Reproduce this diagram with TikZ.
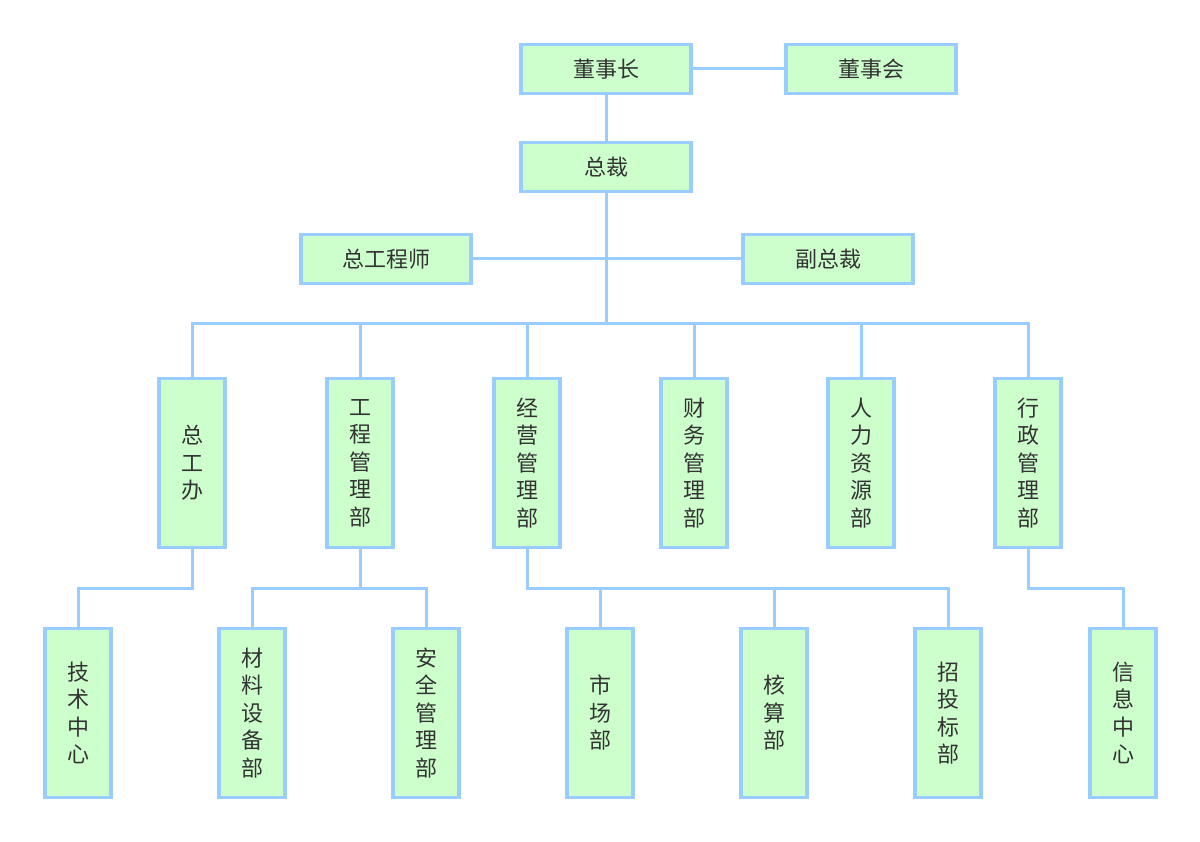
\documentclass[tikz,border=0pt]{standalone}
\usepackage{fontspec}
\newfontfamily\cjk{Noto Sans CJK SC}
\definecolor{boxfill}{HTML}{CCFFCC}
\definecolor{boxline}{HTML}{99CCFF}
\definecolor{txt}{HTML}{333333}
\tikzset{
  hbox/.style={draw=boxline, fill=boxfill, line width=3.5pt, minimum width=170pt, minimum height=49pt, inner sep=0pt,
    font=\cjk\fontsize{22}{27.5}\selectfont, text=txt},
  vbox/.style={draw=boxline, fill=boxfill, line width=3.5pt, minimum width=66pt, minimum height=169pt, inner sep=0pt,
    align=center, font=\cjk\fontsize{22}{27.5}\selectfont, text=txt},
  link/.style={draw=boxline, line width=3pt}
}
\begin{document}
\begin{tikzpicture}[x=1pt,y=-1pt]
\useasboundingbox (0,0) rectangle (1200,842);
\fill[white] (0,0) rectangle (1200,842);
% top
\node[hbox] (dsz) at (606,69) {董事长};
\node[hbox] (dsh) at (871,69) {董事会};
\node[hbox] (zc)  at (606,167) {总裁};
\node[hbox] (zgcs) at (386,259) {总工程师};
\node[hbox] (fzc) at (828,259) {副总裁};
% second row
\node[vbox] (d1) at (192,463) {总\\工\\办};
\node[vbox] (d2) at (360,463) {工\\程\\管\\理\\部};
\node[vbox] (d3) at (527,463) {经\\营\\管\\理\\部};
\node[vbox] (d4) at (694,463) {财\\务\\管\\理\\部};
\node[vbox] (d5) at (861,463) {人\\力\\资\\源\\部};
\node[vbox] (d6) at (1028,463) {行\\政\\管\\理\\部};
% third row
\node[vbox] (t1) at (78,713) {技\\术\\中\\心};
\node[vbox] (t2) at (252,713) {材\\料\\设\\备\\部};
\node[vbox] (t3) at (426,713) {安\\全\\管\\理\\部};
\node[vbox] (t4) at (600,713) {市\\场\\部};
\node[vbox] (t5) at (774,713) {核\\算\\部};
\node[vbox] (t6) at (948,713) {招\\投\\标\\部};
\node[vbox] (t7) at (1123,713) {信\\息\\中\\心};
% coordinates
\coordinate (bus) at (606,324);
\coordinate (L) at (0,588);
% connectors
\draw[link] (dsz.east) -- (dsh.west);
\draw[link] (dsz.south) -- (zc.north);
\draw[link] (zc.south) -- (bus);
\draw[link] (zgcs.east) -- (fzc.west);
\foreach \n in {d1,d2,d3,d4,d5,d6} { \draw[link] (bus) -| (\n.north); }
\draw[link] (d1.south) -- (d1.south |- L) -| (t1.north);
\draw[link] (d2.south) -- (d2.south |- L) -| (t2.north);
\draw[link] (d2.south |- L) -| (t3.north);
\draw[link] (d3.south) -- (d3.south |- L) -| (t6.north);
\draw[link] (d3.south |- L) -| (t4.north);
\draw[link] (d3.south |- L) -| (t5.north);
\draw[link] (d6.south) -- (d6.south |- L) -| (t7.north);
\end{tikzpicture}
\end{document}
